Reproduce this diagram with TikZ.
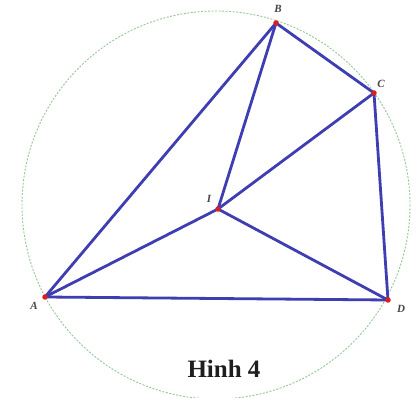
\documentclass[tikz,border=0pt]{standalone}
\usepackage{fontspec}
\setmainfont{Liberation Serif}
\begin{document}
\begin{tikzpicture}[x=1pt,y=-1pt,
  seg/.style={draw={rgb,255:red,62;green,62;blue,178},line width=2.8pt,line cap=round,line join=round},
  pt/.style={circle,fill={rgb,255:red,220;green,30;blue,30},inner sep=0pt,minimum size=5.5pt},
  lbl/.style={font=\fontsize{11}{11}\selectfont\itshape\bfseries,text={rgb,255:red,70;green,70;blue,70},inner sep=0pt}]
\useasboundingbox[fill=white] (0,0) rectangle (416,398);
\draw[draw={rgb,255:red,150;green,200;blue,150},line width=0.9pt,dash pattern=on 2pt off 1.5pt] (216,205) circle (194);
\coordinate (A) at (45,297);
\coordinate (B) at (276,23);
\coordinate (C) at (374,93);
\coordinate (D) at (388,300);
\coordinate (I) at (218,209);
\draw[seg] (A) -- (B) -- (C) -- (D) -- cycle;
\draw[seg] (I) -- (A);
\draw[seg] (I) -- (B);
\draw[seg] (I) -- (C);
\draw[seg] (I) -- (D);
\foreach \p in {A,B,C,D,I} \node[pt] at (\p) {};
\node[lbl] (lB) at (278,9) {B};
\node[lbl] (lC) at (381,84) {C};
\node[lbl] (lI) at (209,199) {I};
\node[lbl] (lA) at (34,306) {A};
\node[lbl] (lD) at (401,309) {D};
\node[font=\fontsize{25}{25}\selectfont\bfseries,text={rgb,255:red,30;green,30;blue,30},inner sep=0pt] (cap) at (224,369) {Hinh 4};
\end{tikzpicture}
\end{document}
